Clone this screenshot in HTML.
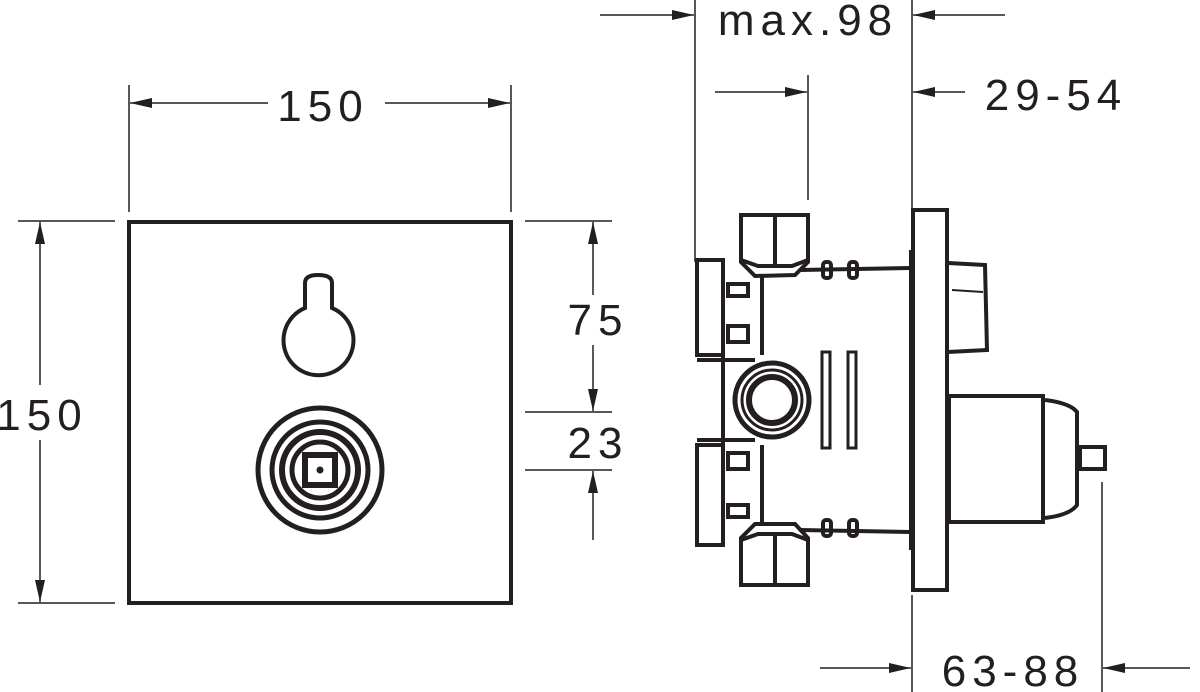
<!DOCTYPE html>
<html><head><meta charset="utf-8"><style>
html,body{margin:0;padding:0;background:#fff;}
svg{display:block}
text{font-family:"Liberation Sans",sans-serif;font-size:44px;fill:#231f20;letter-spacing:6px}
</style></head><body>
<svg width="1200" height="692" viewBox="0 0 1200 692" xmlns="http://www.w3.org/2000/svg">
<defs>
<marker id="a" viewBox="0 0 22 10" refX="22" refY="5" markerWidth="22" markerHeight="10" orient="auto" markerUnits="userSpaceOnUse"><path d="M0,0 L22,5 L0,10 z" fill="#231f20"/></marker>
</defs>
<g stroke="#231f20" fill="none">
<rect x="129" y="222" width="382" height="381" stroke-width="4"/>
<path d="M305,308 L305,283 Q305,275 318,275 Q332,275 332,283 L332,308 A35,35 0 1 1 305,308 Z" stroke-width="4"/>
<circle cx="320" cy="470" r="62" stroke-width="5"/>
<circle cx="320" cy="470" r="48" stroke-width="5"/>
<circle cx="320" cy="470" r="38" stroke-width="6"/>
<circle cx="320" cy="470" r="28" stroke-width="5"/>
<rect x="305" y="455" width="30" height="30" stroke-width="6"/>
<circle cx="320" cy="470" r="3" fill="#231f20"/>

<g stroke-width="1.5">
<line x1="129" y1="85" x2="129" y2="212"/>
<line x1="511" y1="85" x2="511" y2="212"/>
<line x1="270" y1="103" x2="130" y2="103" marker-end="url(#a)"/>
<line x1="385" y1="103" x2="510" y2="103" marker-end="url(#a)"/>
<line x1="18" y1="221" x2="115" y2="221"/>
<line x1="18" y1="603" x2="115" y2="603"/>
<line x1="40" y1="385" x2="40" y2="222" marker-end="url(#a)"/>
<line x1="40" y1="440" x2="40" y2="602" marker-end="url(#a)"/>
<line x1="525" y1="221" x2="612" y2="221"/>
<line x1="525" y1="412" x2="612" y2="412"/>
<line x1="525" y1="470" x2="612" y2="470"/>
<line x1="593" y1="295" x2="593" y2="222" marker-end="url(#a)"/>
<line x1="593" y1="345" x2="593" y2="411" marker-end="url(#a)"/>
<line x1="593" y1="540" x2="593" y2="471" marker-end="url(#a)"/>

<line x1="695" y1="0" x2="695" y2="262"/>
<line x1="912" y1="0" x2="912" y2="208"/>
<line x1="600" y1="15" x2="694" y2="15" marker-end="url(#a)"/>
<line x1="1005" y1="15" x2="913" y2="15" marker-end="url(#a)"/>
<line x1="808" y1="75" x2="808" y2="200"/>
<line x1="715" y1="92" x2="807" y2="92" marker-end="url(#a)"/>
<line x1="965" y1="92" x2="913" y2="92" marker-end="url(#a)"/>
<line x1="912" y1="595" x2="912" y2="692"/>
<line x1="1102" y1="482" x2="1102" y2="692"/>
<line x1="820" y1="668" x2="911" y2="668" marker-end="url(#a)"/>
<line x1="1190" y1="668" x2="1103" y2="668" marker-end="url(#a)"/>
</g>

<g stroke-width="4">
<rect x="697" y="260" width="26" height="95"/>
<rect x="697" y="445" width="26" height="100"/>
<line x1="723" y1="265" x2="723" y2="540"/>
<line x1="762" y1="275" x2="762" y2="355"/>
<line x1="762" y1="445" x2="762" y2="525"/>
<line x1="697" y1="360" x2="755" y2="360"/>
<line x1="697" y1="440" x2="755" y2="440"/>
<line x1="800" y1="270" x2="910" y2="268"/>
<line x1="800" y1="530" x2="910" y2="532"/>
<path d="M741,215 L808,215 L808,262 L795,275 L755,276 L741,262 Z"/>
<line x1="775" y1="215" x2="775" y2="266"/>
<path d="M741,260 L758,266 L792,266 L808,260"/>
<path d="M741,585 L808,585 L808,538 L795,524 L755,524 L741,538 Z"/>
<line x1="775" y1="585" x2="775" y2="534"/>
<path d="M741,540 L758,534 L792,534 L808,540"/>
<rect x="728" y="284" width="20" height="12"/>
<rect x="728" y="326" width="20" height="16"/>
<rect x="728" y="453" width="20" height="16"/>
<rect x="728" y="505" width="20" height="12"/>
<rect x="823" y="262" width="8" height="16" rx="3"/>
<rect x="849" y="262" width="8" height="16" rx="3"/>
<rect x="823" y="520" width="8" height="16" rx="3"/>
<rect x="849" y="520" width="8" height="16" rx="3"/>
<rect x="822" y="352" width="8" height="96" stroke-width="3"/>
<rect x="848" y="352" width="8" height="96" stroke-width="3"/>
<circle cx="772" cy="400" r="37" stroke-width="5"/>
<circle cx="772" cy="400" r="30" stroke-width="3"/>
<circle cx="772" cy="400" r="23" stroke-width="6"/>
<rect x="913" y="210" width="34" height="380"/>
<line x1="911" y1="250" x2="911" y2="550" stroke-width="4"/>
<path d="M948,263 L985,265 L987,350 L948,352"/>
<line x1="952" y1="290" x2="983" y2="292" stroke-width="2"/>
<rect x="949" y="396" width="94" height="126"/>
<path d="M1045,400 Q1070,403 1077,412 L1077,505 Q1070,515 1045,518"/>
<rect x="1080" y="447" width="25" height="22"/>
</g>
</g>
<g>
<rect x="268" y="80" width="110" height="48" fill="#fff"/>
<text x="323" y="121" text-anchor="middle">150</text>
<rect x="0" y="386" width="90" height="54" fill="#fff"/>
<text x="42" y="430" text-anchor="middle">150</text>
<text x="598" y="335" text-anchor="middle">75</text>
<text x="598" y="458" text-anchor="middle">23</text>
<text x="808" y="35" text-anchor="middle">max.98</text>
<text x="1056" y="110" text-anchor="middle">29-54</text>
<text x="1013" y="686" text-anchor="middle">63-88</text>
</g>
</svg>
</body></html>
